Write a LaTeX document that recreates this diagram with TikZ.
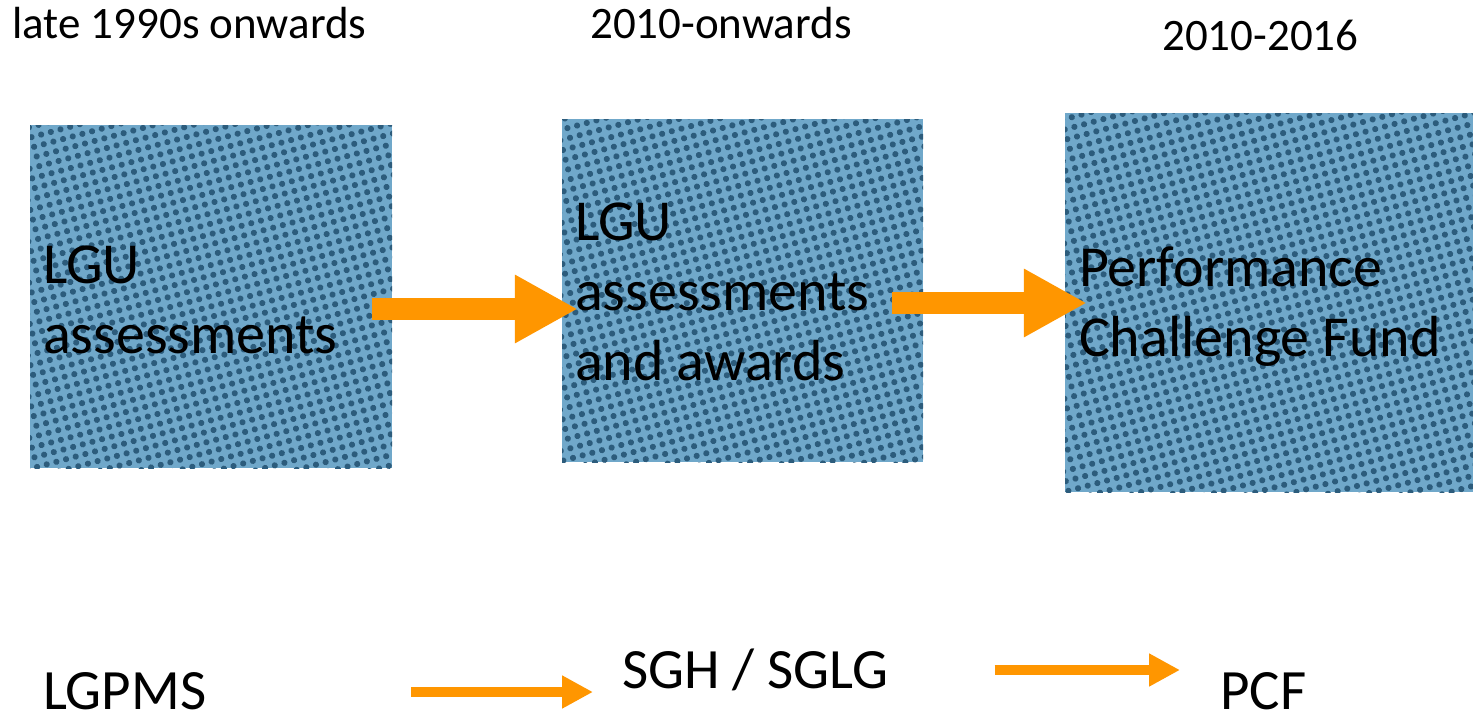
\documentclass[tikz,border=0pt]{standalone}
\usepackage{fontspec}
\setmainfont{Carlito}
\usetikzlibrary{arrows.meta,patterns.meta,calc}
\definecolor{boxbg}{RGB}{112,168,202}
\definecolor{dotc}{RGB}{44,92,124}
\definecolor{arrorange}{RGB}{255,150,0}
\tikzset{
  box/.style={preaction={fill=boxbg}, pattern={Dots[distance=10pt, radius=3.1pt, angle=15]},
    pattern color=dotc, inner sep=0pt},
  boxtext/.style={anchor=west, inner sep=0pt, align=left,
    font=\fontsize{58}{70}\selectfont},
  toplabel/.style={anchor=base west, inner sep=0pt, font=\fontsize{45}{54}\selectfont},
  botlabel/.style={anchor=base west, inner sep=0pt, font=\fontsize{57}{68}\selectfont},
  bigarrow/.style={draw=arrorange, line width=22pt, -{Triangle[length=63pt, width=64pt]}},
  smallarrow/.style={draw=arrorange, line width=10pt, -{Triangle[length=31pt, width=31pt]}},
}
\begin{document}
\begin{tikzpicture}[x=1pt, y=-1pt]
\useasboundingbox (0,0) rectangle (1473,715);
\fill[white] (0,0) rectangle (1473,715);
% top labels
\node[toplabel] (t1) at (12,38) {late 1990s onwards};
\node[toplabel] (t2) at (590,38) {2010-onwards};
\node[toplabel] (t3) at (1162,50) {2010-2016};
% boxes
\node[box, minimum width=362pt, minimum height=343pt] (b1) at (211,296.5) {};
\node[box, minimum width=361pt, minimum height=343pt] (b2) at (742.5,290.5) {};
\node[box, minimum width=408pt, minimum height=379pt] (b3) at (1269,302.5) {};
\node[boxtext] (b1t) at ($(b1.west)+(13,3)$) {LGU\\assessments};
\node[boxtext] (b2t) at ($(b2.west)+(13,1)$) {LGU\\assessments\\and awards};
\node[boxtext] (b3t) at ($(b3.west)+(14,4)$) {Performance\\Challenge Fund};
% big arrows
\draw[bigarrow] ($(b1.east)+(-20,12.5)$) -- ($(b2.west)+(16,18.5)$);
\draw[bigarrow] ($(b2.east)+(-31,12.5)$) -- ($(b3.west)+(22,0.5)$);
% bottom labels
\node[botlabel] (l1) at (43,709) {LGPMS};
\node[botlabel] (l2) at (622,688) {SGH / SGLG};
\node[botlabel] (l3) at (1220,709) {PCF};
\draw[smallarrow] ($(l1.base east)+(205,-17)$) -- ($(l2.base west)+(-29,4)$);
\draw[smallarrow] ($(l2.base east)+(106,-18)$) -- ($(l3.base west)+(-40,-39)$);
\end{tikzpicture}
\end{document}
